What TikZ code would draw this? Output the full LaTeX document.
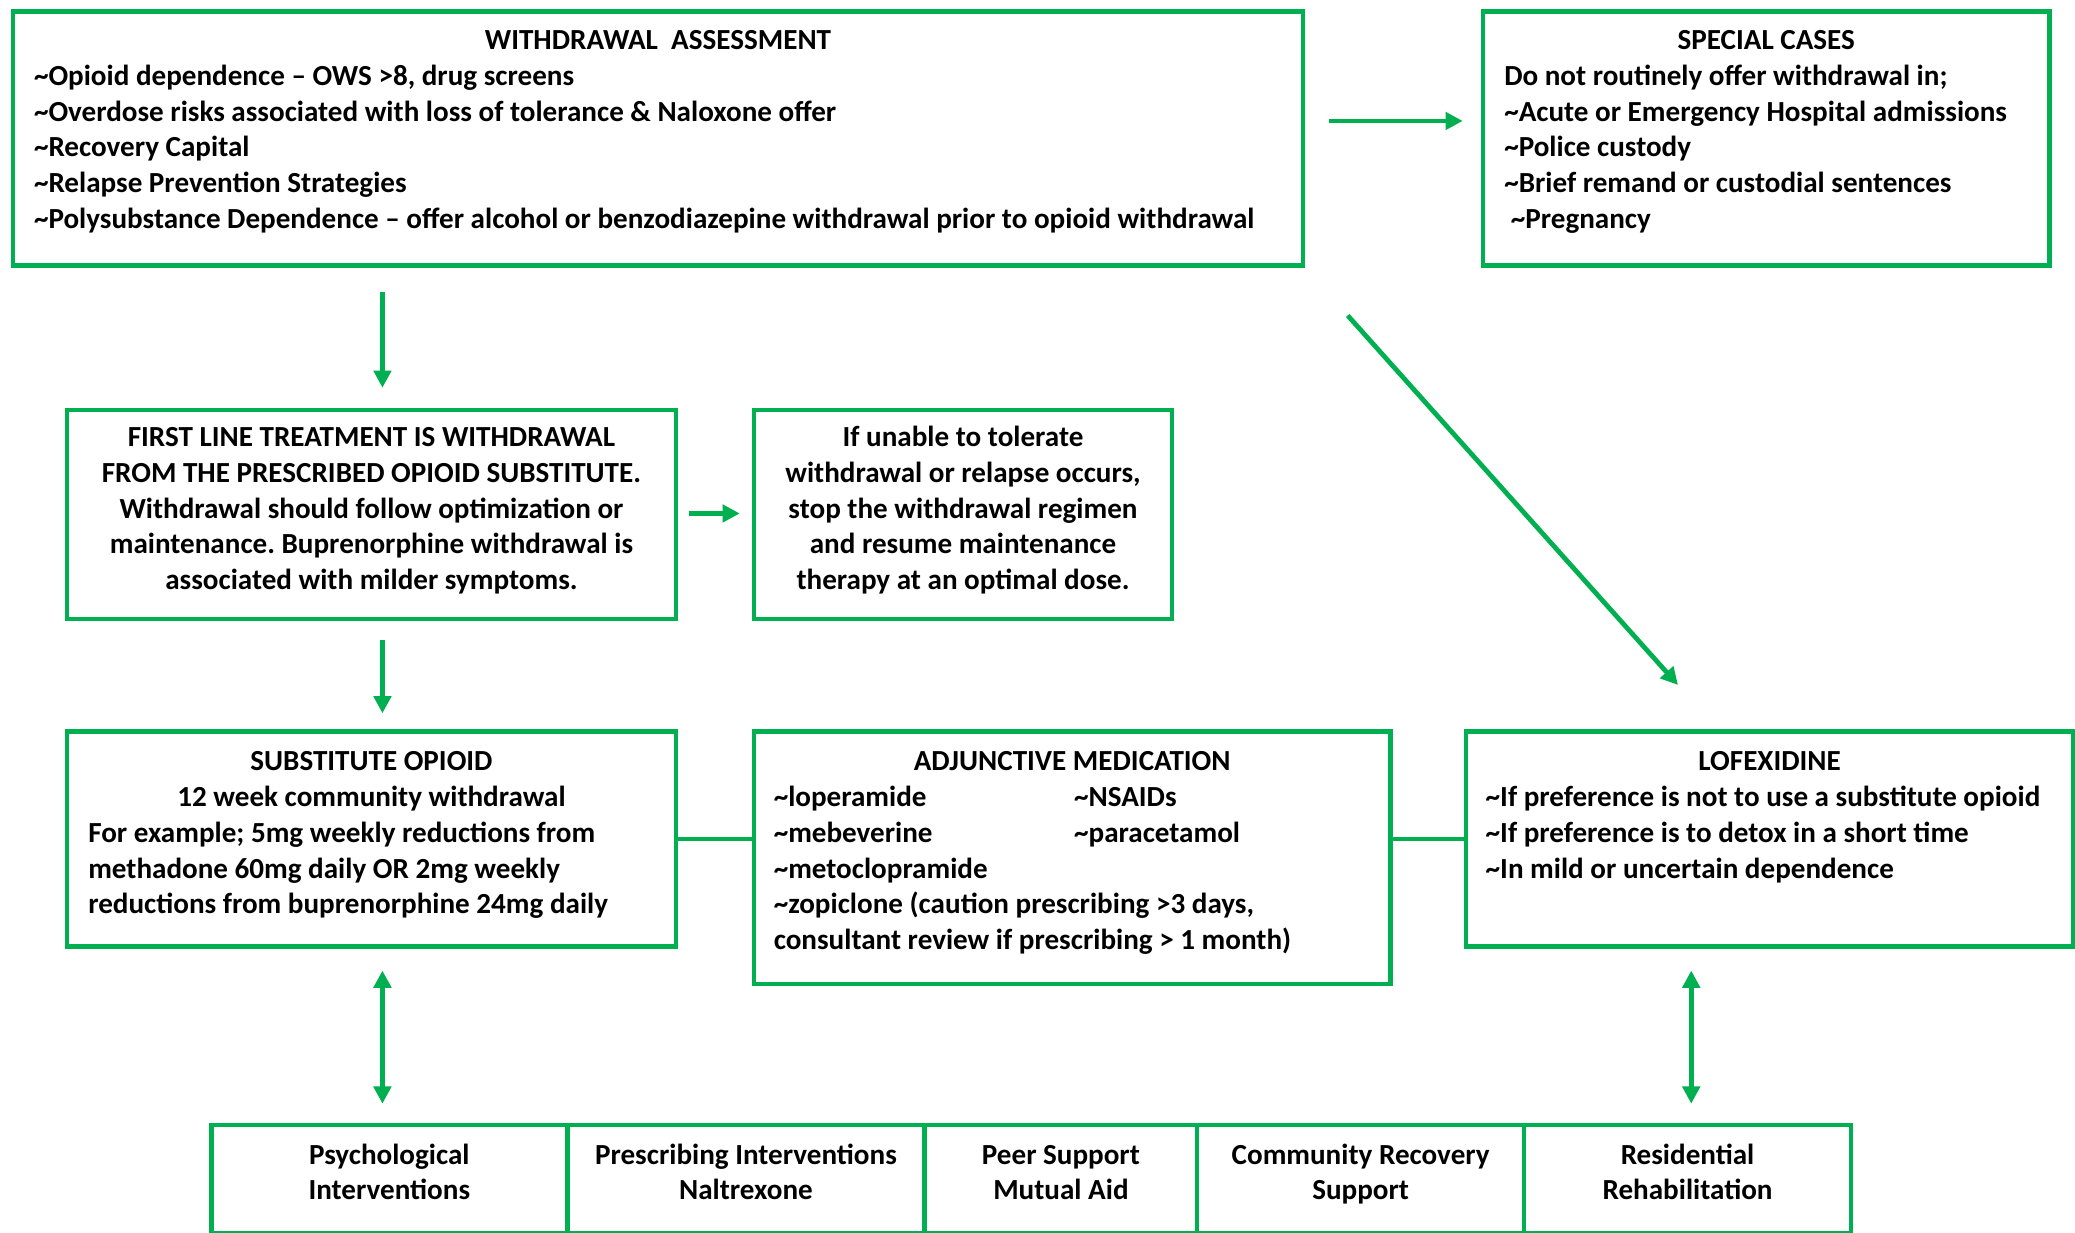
\documentclass[tikz,border=0pt]{standalone}
\usepackage{fontspec}
\setmainfont{Carlito}
\usetikzlibrary{arrows.meta,calc}
\definecolor{grn}{HTML}{00B050}
\frenchspacing

% one line of a box: centred, or left-aligned after an indent
\newcommand\cenln[1]{\noindent\makebox[\linewidth][c]{\strut#1}\par}
\newcommand\leftln[2]{\noindent\makebox[\linewidth][l]{\hspace*{#1}\strut#2}\par}
\newcommand\tild{\textasciitilde}
% body of a box: width, height, gap above the first line, lines
\newcommand\boxbody[4]{%
  \parbox[t][#2][t]{#1}{\fontsize{22}{27}\bfseries\selectfont\vspace*{#3}#4}}

\begin{document}
\begin{tikzpicture}[x=1pt,y=-1pt,
  box/.style={draw=grn,line width=3.4pt,inner sep=0pt,anchor=north west},
  arr/.style={draw=grn,line width=3.6pt,-{Triangle[length=13pt,width=13pt]}},
  dblarr/.style={draw=grn,line width=3.6pt,{Triangle[length=13pt,width=13pt]}-{Triangle[length=13pt,width=13pt]}},
  link/.style={draw=grn,line width=3.4pt}]
\useasboundingbox (0,0) rectangle (1568,931);
\clip (0,0) rectangle (1568,931);

% top row
\node[box] (wa) at (8,7) {\boxbody{975pt}{192pt}{10pt}{%
  \cenln{WITHDRAWAL\ \ ASSESSMENT}
  \leftln{16pt}{\tild Opioid dependence – OWS >8, drug screens}
  \leftln{16pt}{\tild Overdose risks associated with loss of tolerance \& Naloxone offer}
  \leftln{16pt}{\tild Recovery Capital}
  \leftln{16pt}{\tild Relapse Prevention Strategies}
  \leftln{16pt}{\tild Polysubstance Dependence – offer alcohol or benzodiazepine withdrawal prior to opioid withdrawal}}};

\node[box] (sc) at (1119,7) {\boxbody{428pt}{192pt}{10pt}{%
  \cenln{SPECIAL CASES}
  \leftln{16pt}{Do not routinely offer withdrawal in;}
  \leftln{16pt}{\tild Acute or Emergency Hospital admissions}
  \leftln{16pt}{\tild Police custody}
  \leftln{16pt}{\tild Brief remand or custodial sentences}
  \leftln{21pt}{\tild Pregnancy}}};

% second row
\node[box] (fl) at (49,308) {\boxbody{460pt}{158pt}{9pt}{%
  \cenln{FIRST LINE TREATMENT IS WITHDRAWAL}
  \cenln{FROM THE PRESCRIBED OPIOID SUBSTITUTE.}
  \cenln{Withdrawal should follow optimization or}
  \cenln{maintenance. Buprenorphine withdrawal is}
  \cenln{associated with milder symptoms.}}};

\node[box] (un) at (568,308) {\boxbody{316pt}{158pt}{9pt}{%
  \cenln{If unable to tolerate}
  \cenln{withdrawal or relapse occurs,}
  \cenln{stop the withdrawal regimen}
  \cenln{and resume maintenance}
  \cenln{therapy at an optimal dose.}}};

% third row
\node[box] (so) at (49,551) {\boxbody{460pt}{162.5pt}{11pt}{%
  \cenln{SUBSTITUTE OPIOID}
  \cenln{12 week community withdrawal}
  \leftln{16pt}{For example; 5mg weekly reductions from}
  \leftln{16pt}{methadone 60mg daily OR 2mg weekly}
  \leftln{16pt}{reductions from buprenorphine 24mg daily}}};

\node[box] (ad) at (568,551) {\boxbody{481pt}{191pt}{11pt}{%
  \cenln{ADJUNCTIVE MEDICATION}
  \leftln{15pt}{\makebox[227pt][l]{\tild loperamide}\tild NSAIDs}
  \leftln{15pt}{\makebox[227pt][l]{\tild mebeverine}\tild paracetamol}
  \leftln{15pt}{\tild metoclopramide}
  \leftln{15pt}{\tild zopiclone (caution prescribing >3 days,}
  \leftln{15pt}{consultant review if prescribing > 1 month)}}};

\node[box] (lo) at (1106,551) {\boxbody{459pt}{162.5pt}{11pt}{%
  \cenln{LOFEXIDINE}
  \leftln{15pt}{\tild If preference is not to use a substitute opioid}
  \leftln{15pt}{\tild If preference is to detox in a short time}
  \leftln{15pt}{\tild In mild or uncertain dependence}}};

% bottom row of support options
\node[box] (ps) at (158,848.5) {\boxbody{269pt}{82pt}{10.5pt}{%
  \cenln{Psychological}\cenln{Interventions}}};
\node[box] (pi) at (427,848.5) {\boxbody{270pt}{82pt}{10.5pt}{%
  \cenln{Prescribing Interventions}\cenln{Naltrexone}}};
\node[box] (pe) at (697,848.5) {\boxbody{206pt}{82pt}{10.5pt}{%
  \cenln{Peer Support}\cenln{Mutual Aid}}};
\node[box] (cr) at (903,848.5) {\boxbody{247pt}{82pt}{10.5pt}{%
  \cenln{Community Recovery}\cenln{Support}}};
\node[box] (rr) at (1150,848.5) {\boxbody{247pt}{82pt}{10.5pt}{%
  \cenln{Residential}\cenln{Rehabilitation}}};

% connectors
\draw[arr] ($(wa.north east)+(18,84.4)$) -- ($(sc.north west)+(-13.7,84.4)$);
\draw[arr] ($(wa.south east)+(32,36)$) -- ($(lo.north west)+(162,-33.4)$);
\draw[arr] ($(wa.south west)+(281,18)$) -- ($(fl.north west)+(240,-15)$);
\draw[arr] ($(fl.north east)+(8,80)$) -- ($(un.north west)+(-9,80)$);
\draw[arr] ($(fl.south west)+(240,14)$) -- ($(so.north west)+(240,-12)$);
\draw[link] (so.east) -- (so.east -| ad.west);
\draw[link] (lo.west -| ad.east) -- (lo.west);
\draw[dblarr] ($(so.south west)+(240,16.5)$) -- ($(ps.north west)+(131,-14.5)$);
\draw[dblarr] ($(lo.south west)+(172,16.5)$) -- ($(rr.north west)+(128,-14.5)$);
\end{tikzpicture}
\end{document}
